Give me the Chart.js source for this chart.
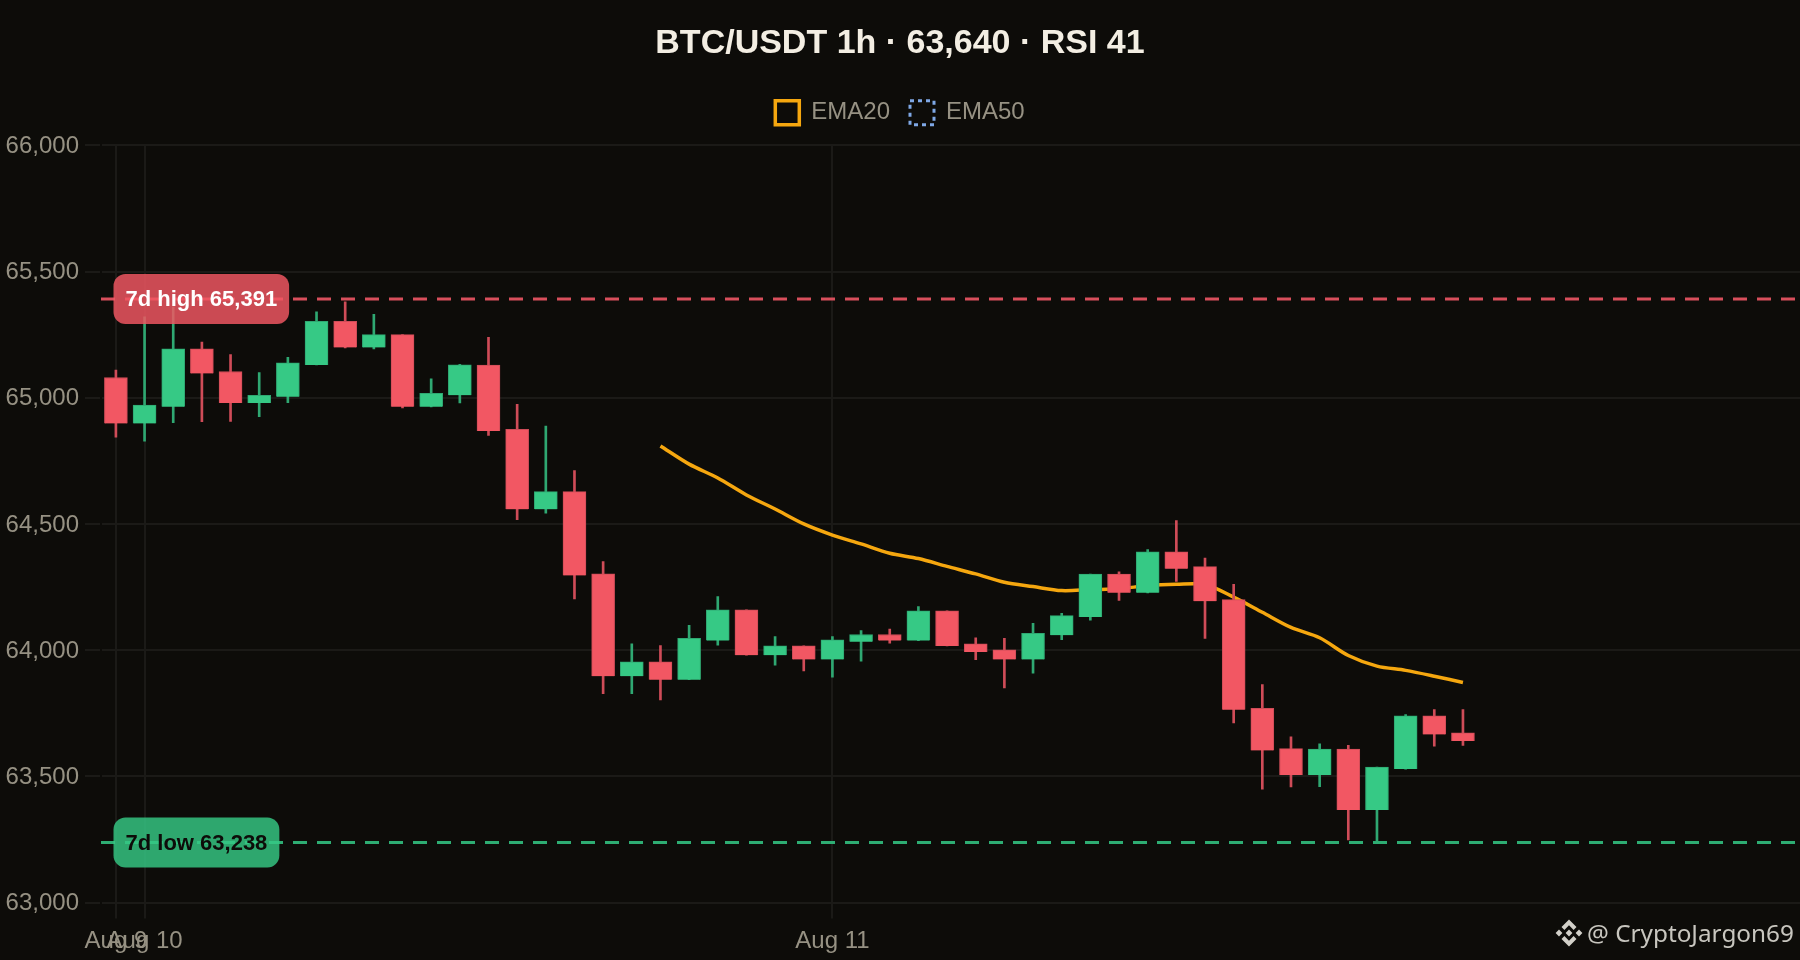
<!DOCTYPE html>
<html>
<head>
<meta charset="utf-8">
<title>BTC/USDT 1h</title>
<script src="https://cdn.jsdelivr.net/npm/chart.js@4"></script>
<style>
  html, body { margin: 0; background: #0d0c09; }
  .wrap { position: relative; width: 1800px; height: 960px; }
  .mark { position: absolute; left: 1555px; top: 916px; display: flex; align-items: center; gap: 4px;
          color: #c8c6bf; font: 24.3px "Noto Sans", sans-serif; white-space: nowrap; }
  .mark svg { width: 28px; height: 28px; fill: #d2d0c9; }
</style>
</head>
<body>
<div class="wrap">
  <canvas id="c" width="1800" height="960"></canvas>
  <div class="mark">
    <svg viewBox="0 0 28 28"><path d="M14 0.5 L21.5 8 L18.6 10.9 L14 6.3 L9.4 10.9 L6.5 8 Z M14 27.5 L6.5 20 L9.4 17.1 L14 21.7 L18.6 17.1 L21.5 20 Z M14 10.6 L17.4 14 L14 17.4 L10.6 14 Z M4 10.6 L7.4 14 L4 17.4 L0.6 14 Z M24 10.6 L27.4 14 L24 17.4 L20.6 14 Z"/></svg>
    <span>@ CryptoJargon69</span>
  </div>
</div>
<script>
// данные свечей, чтение с картинки
const opens  = [65080,64898,64964,65194,65104,64979,65004,65130,65303,65199,65250,64964,65010,65129,64875,64558,64628,64302,63897,63954,63883,64038,64160,63980,64017,63963,64033,64062,64038,64156,64025,64001,63963,64059,64131,64301,64227,64390,64331,64200,63770,63610,63505,63608,63367,63529,63740,63673];
const closes = [64898,64971,65194,65096,64979,65010,65138,65303,65199,65250,64964,65017,65130,64868,64558,64628,64296,63897,63954,63883,64047,64160,63980,64017,63963,64041,64062,64038,64156,64017,63993,63963,64067,64137,64301,64227,64390,64323,64194,63764,63603,63505,63608,63367,63537,63740,63666,63640];
const highs  = [65110,65320,65360,65220,65171,65100,65160,65340,65380,65330,65250,65075,65132,65239,64974,64888,64711,64351,64025,64018,64098,64212,64160,64054,64017,64054,64078,64084,64173,64156,64049,64047,64106,64146,64301,64310,64398,64513,64365,64261,63864,63657,63629,63623,63537,63745,63765,63765];
const lows   = [64844,64828,64901,64905,64906,64925,64980,65130,65197,65193,64960,64964,64979,64851,64517,64543,64203,63828,63828,63803,63883,64020,63980,63941,63918,63893,63956,64028,64038,64017,63962,63850,63909,64042,64119,64197,64227,64272,64047,63712,63449,63458,63459,63248,63238,63529,63620,63623];
// EMA20 начинается с 20-й свечи
const emaStart = 19;
const ema20 = [64809,64737,64682,64615,64559,64500,64456,64421,64384,64363,64332,64302,64269,64252,64236,64240,64243,64256,64261,64260,64210,64150,64090,64049,63979,63937,63920,63897,63872];
const high7d = 65391;
const low7d  = 63238;
const tickIndex  = [0, 1, 25];
const tickLabels = ['Aug 9', 'Aug 10', 'Aug 11'];
const yMin = 63000, yMax = 66000, yStep = 500;
const xMin = -0.52, xMax = 58.76;

const UP = '#36c985', DOWN = '#f25763';
const UP_EDGE = '#2fa872', DOWN_EDGE = '#cf4c58';
const isUp = i => closes[i] >= opens[i];
const muted = '#969183', gridCol = '#1b1a17', bg = '#0d0c09';
const FONT = '"Liberation Sans", Arial, sans-serif';

// подписи 7d high / 7d low поверх линий
const levelTags = {
  id: 'levelTags',
  afterDatasetsDraw(chart) {
    const { ctx, scales: { y }, chartArea } = chart;
    const tags = [
      { text: `7d high ${high7d.toLocaleString('en-US')}`, v: high7d, fill: 'rgba(242,87,99,0.83)', ink: '#ffffff' },
      { text: `7d low ${low7d.toLocaleString('en-US')}`, v: low7d, fill: 'rgba(54,201,133,0.82)', ink: '#0d0c09' }
    ];
    ctx.save();
    ctx.font = `bold 22px ${FONT}`;
    ctx.textBaseline = 'middle';
    tags.forEach(t => {
      const w = ctx.measureText(t.text).width + 24, h = 50;
      const x = chartArea.left + 12.5, cy = y.getPixelForValue(t.v);
      ctx.beginPath();
      ctx.roundRect(x, cy - h / 2, w, h, 12);
      ctx.fillStyle = t.fill;
      ctx.fill();
      ctx.fillStyle = t.ink;
      ctx.fillText(t.text, x + 12, cy + 1);
    });
    ctx.restore();
  }
};

// зазор под легендой
const legendGap = {
  id: 'legendGap',
  beforeInit(chart) {
    const fit = chart.legend.fit;
    chart.legend.fit = function () { fit.call(this); this.height += 10.5; };
  }
};

new Chart(document.getElementById('c'), {
  data: {
    datasets: [
      {
        type: 'line', label: 'EMA20', order: 5,
        data: ema20.map((v, i) => ({ x: i + emaStart, y: v })),
        borderColor: '#f5a70f', backgroundColor: 'transparent', borderWidth: 3.5,
        pointRadius: 0, tension: 0.3
      },
      {
        type: 'line', label: 'EMA50', order: 6,
        data: [], // меньше 50 свечей, линии нет
        borderColor: '#7fa8e6', backgroundColor: 'transparent', borderWidth: 3,
        borderDash: [4, 4], pointRadius: 0
      },
      {
        type: 'bar', label: 'wick', order: 4, grouped: false,
        data: opens.map((_, i) => ({ x: i, y: [lows[i], highs[i]] })),
        backgroundColor: opens.map((_, i) => isUp(i) ? UP_EDGE : DOWN_EDGE),
        barThickness: 2
      },
      {
        type: 'bar', label: 'body', order: 3, grouped: false,
        data: opens.map((o, i) => ({ x: i, y: [o, closes[i]] })),
        backgroundColor: opens.map((_, i) => isUp(i) ? UP : DOWN),
        borderColor: opens.map((_, i) => isUp(i) ? UP_EDGE : DOWN_EDGE),
        borderWidth: 1,
        barThickness: 23
      },
      {
        type: 'line', label: 'high', order: 1,
        data: [{ x: xMin, y: high7d }, { x: xMax, y: high7d }],
        borderColor: '#d84f5c', borderWidth: 3, borderDash: [14, 10], pointRadius: 0
      },
      {
        type: 'line', label: 'low', order: 2,
        data: [{ x: xMin, y: low7d }, { x: xMax, y: low7d }],
        borderColor: '#2ead73', borderWidth: 3, borderDash: [14, 10], pointRadius: 0
      }
    ]
  },
  options: {
    responsive: false,
    devicePixelRatio: 1,
    animation: false,
    layout: { padding: 0 },
    plugins: {
      title: {
        display: true, text: 'BTC/USDT 1h · 63,640 · RSI 41', color: '#f3eee3',
        font: { size: 34, weight: 'bold', family: FONT },
        padding: { top: 23, bottom: 17 }
      },
      legend: {
        position: 'top',
        labels: {
          color: muted, boxWidth: 24, boxHeight: 24, padding: 20,
          font: { size: 24, family: FONT },
          filter: item => item.text.startsWith('EMA')
        }
      },
      tooltip: { enabled: false }
    },
    scales: {
      x: {
        type: 'linear', min: xMin, max: xMax, offset: false,
        afterBuildTicks: s => { s.ticks = tickIndex.map(v => ({ value: v })); },
        afterFit: s => { s.height = 57.4; },
        grid: { color: gridCol, lineWidth: 2, tickLength: 16, offset: false },
        border: { display: false },
        ticks: {
          color: muted, padding: 8, autoSkip: false, maxRotation: 0,
          font: { size: 24, family: FONT },
          callback: v => tickLabels[tickIndex.indexOf(v)]
        }
      },
      y: {
        min: yMin, max: yMax,
        afterFit: s => { s.width = 101; },
        grid: { color: gridCol, lineWidth: 2, tickLength: 16 },
        border: { color: bg, width: 2 },
        ticks: {
          color: muted, padding: 6, stepSize: yStep, labelOffset: 1,
          font: { size: 24, family: FONT },
          callback: v => v.toLocaleString('en-US')
        }
      }
    }
  },
  plugins: [levelTags, legendGap]
});
</script>
</body>
</html>
